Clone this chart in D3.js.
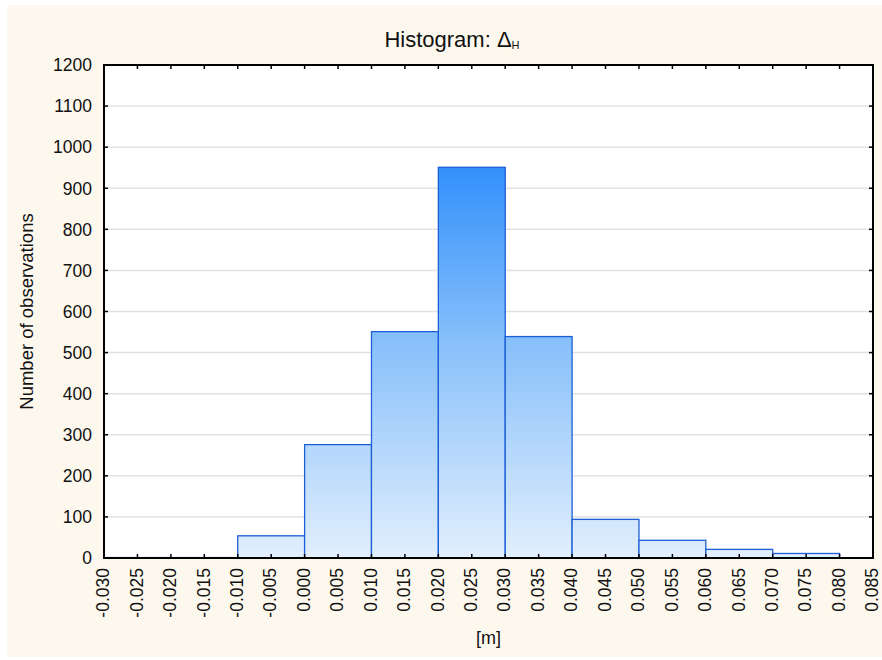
<!DOCTYPE html>
<html lang="en">
<head>
  <meta charset="utf-8">
  <title>Histogram</title>
  <script src="https://d3js.org/d3.v7.min.js"></script>
  <style>
    body { margin: 0; background: #ffffff; }
    text { font-family: "Liberation Sans", Arial, sans-serif; fill: #111; }
  </style>
</head>
<body>
<script>
  // bin edges (lower bound) and counts
  const binStarts = [-0.030, -0.020, -0.010, 0.000, 0.010, 0.020, 0.030, 0.040, 0.050, 0.060, 0.070];
  const binWidth = 0.010;
  const counts = [1, 1, 54, 276, 551, 951, 539, 94, 43, 21, 11];
  const xTicks = [-0.030, -0.025, -0.020, -0.015, -0.010, -0.005, 0.000, 0.005, 0.010, 0.015, 0.020,
                  0.025, 0.030, 0.035, 0.040, 0.045, 0.050, 0.055, 0.060, 0.065, 0.070, 0.075, 0.080, 0.085];
  const yTicks = [0, 100, 200, 300, 400, 500, 600, 700, 800, 900, 1000, 1100, 1200];

  const width = 882, height = 660;
  const margin = { top: 65, right: 9, bottom: 102, left: 104 };

  const svg = d3.select("body").append("svg")
    .attr("width", width)
    .attr("height", height);

  // cream background
  svg.append("rect")
    .attr("x", 7).attr("y", 5)
    .attr("width", width - 7).attr("height", 652)
    .attr("fill", "#fdf8ee");

  const x = d3.scaleLinear()
    .domain([-0.030, 0.085])
    .range([margin.left, width - margin.right]);
  const y = d3.scaleLinear()
    .domain([0, 1200])
    .range([height - margin.bottom, margin.top]);

  // plot area
  svg.append("rect")
    .attr("x", x.range()[0]).attr("y", y.range()[1])
    .attr("width", x.range()[1] - x.range()[0])
    .attr("height", y.range()[0] - y.range()[1])
    .attr("fill", "#ffffff");

  // gridlines
  svg.append("g")
    .selectAll("line")
    .data(yTicks.slice(1, -1))
    .enter().append("line")
    .attr("x1", x.range()[0]).attr("x2", x.range()[1])
    .attr("y1", d => y(d)).attr("y2", d => y(d))
    .attr("stroke", "#e2e2e2")
    .attr("stroke-width", 1.5);

  // gradient across the plot
  const grad = svg.append("defs").append("linearGradient")
    .attr("id", "barGrad")
    .attr("gradientUnits", "userSpaceOnUse")
    .attr("x1", 0).attr("x2", 0)
    .attr("y1", y(d3.max(counts))).attr("y2", y(0));
  grad.append("stop").attr("offset", "0%").attr("stop-color", "#3390fb");
  grad.append("stop").attr("offset", "45%").attr("stop-color", "#88c0fa");
  grad.append("stop").attr("offset", "100%").attr("stop-color", "#e2effd");

  const bars = binStarts.map((b, i) => ({ x0: b, x1: b + binWidth, n: counts[i] }));

  svg.append("g")
    .selectAll("rect")
    .data(bars)
    .enter().append("rect")
    .attr("x", d => x(d.x0))
    .attr("y", d => y(d.n))
    .attr("width", d => x(d.x1) - x(d.x0))
    .attr("height", d => y(0) - y(d.n))
    .attr("fill", "url(#barGrad)")
    .attr("stroke", "#1c5fd6")
    .attr("stroke-width", 1.3);

  // axes with inner ticks
  const tickLen = 4;
  const frame = svg.append("g").attr("stroke", "#000");

  frame.selectAll(".xt")
    .data(xTicks)
    .enter().append("line")
    .attr("x1", d => x(d)).attr("x2", d => x(d))
    .attr("y1", y(0)).attr("y2", y(0) - tickLen)
    .attr("stroke-width", 1.5);
  frame.selectAll(".xtt")
    .data(xTicks)
    .enter().append("line")
    .attr("x1", d => x(d)).attr("x2", d => x(d))
    .attr("y1", y(1200)).attr("y2", y(1200) + tickLen)
    .attr("stroke-width", 1.5);
  frame.selectAll(".yt")
    .data(yTicks)
    .enter().append("line")
    .attr("x1", x.range()[0]).attr("x2", x.range()[0] + tickLen)
    .attr("y1", d => y(d)).attr("y2", d => y(d))
    .attr("stroke-width", 1.5);
  frame.selectAll(".ytr")
    .data(yTicks)
    .enter().append("line")
    .attr("x1", x.range()[1]).attr("x2", x.range()[1] - tickLen)
    .attr("y1", d => y(d)).attr("y2", d => y(d))
    .attr("stroke-width", 1.5);

  frame.append("rect")
    .attr("x", x.range()[0]).attr("y", y.range()[1])
    .attr("width", x.range()[1] - x.range()[0])
    .attr("height", y.range()[0] - y.range()[1])
    .attr("fill", "none")
    .attr("stroke-width", 2);

  // y tick labels
  svg.append("g")
    .selectAll("text")
    .data(yTicks)
    .enter().append("text")
    .attr("x", x.range()[0] - 12)
    .attr("y", d => y(d))
    .attr("dy", "0.36em")
    .attr("text-anchor", "end")
    .style("font-size", "17.5px")
    .text(d => d);

  // x tick labels, rotated
  svg.append("g")
    .selectAll("text")
    .data(xTicks)
    .enter().append("text")
    .attr("transform", d => `translate(${x(d)},${y(0) + 10}) rotate(-90)`)
    .attr("dy", "0.3em")
    .attr("text-anchor", "end")
    .style("font-size", "17.5px")
    .text(d => d3.format(".3f")(d).replace("−", "-"));

  // title
  const title = svg.append("text")
    .attr("x", 452)
    .attr("y", 47)
    .attr("text-anchor", "middle")
    .style("font-size", "22px");
  title.append("tspan").text("Histogram: Δ");
  title.append("tspan").attr("dy", 2).style("font-size", "11px").text("H");

  // axis labels
  svg.append("text")
    .attr("transform", `translate(33,${(y.range()[0] + y.range()[1]) / 2}) rotate(-90)`)
    .attr("text-anchor", "middle")
    .style("font-size", "18.5px")
    .text("Number of observations");

  svg.append("text")
    .attr("x", (x.range()[0] + x.range()[1]) / 2)
    .attr("y", 644)
    .attr("text-anchor", "middle")
    .style("font-size", "18px")
    .text("[m]");
</script>
</body>
</html>
